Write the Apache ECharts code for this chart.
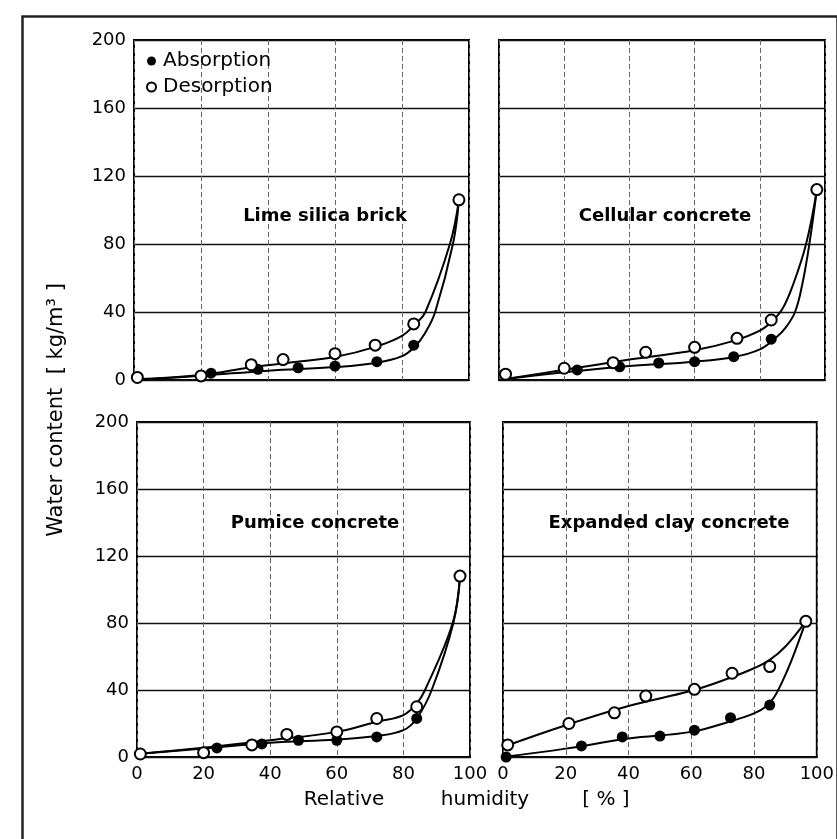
<!DOCTYPE html>
<html>
<head>
<meta charset="utf-8">
<script src="https://cdn.jsdelivr.net/npm/echarts@6/dist/echarts.min.js"></script>
<style>
    html, body { margin: 0; padding: 0; background: #fff; }
    #chart { width: 837px; height: 839px; }
</style>
</head>
<body>
<div id="chart"></div>
<script>
// axis ticks
const xTicks = [0, 20, 40, 60, 80, 100];
const yTicks = [0, 40, 80, 120, 160, 200];
const panelNames = ['Lime silica brick', 'Cellular concrete', 'Pumice concrete', 'Expanded clay concrete'];

// measured points: [relative humidity %, water content kg/m3]
const limeAbs = [[23, 4], [37, 6.3], [49, 7.2], [60, 8.2], [72.5, 10.8], [83.5, 20.5], [97, 106]];
const limeDes = [[1, 1.5], [20, 2.4], [35, 9], [44.5, 12], [60, 15.5], [72, 20.5], [83.5, 33], [97, 106]];
const cellAbs = [[24, 5.9], [37, 7.8], [49, 10], [60, 10.8], [72, 13.7], [83.5, 24], [97.5, 112]];
const cellDes = [[2, 3.4], [20, 6.9], [35, 10.2], [45, 16.3], [60, 19.2], [73, 24.5], [83.5, 35.3], [97.5, 112]];
const pumiAbs = [[24, 5.4], [37.5, 7.8], [48.5, 10], [60, 10], [72, 12], [84, 23], [97, 108]];
const pumiDes = [[1, 1.8], [20, 2.6], [34.5, 7.2], [45, 13.5], [60, 15], [72, 23], [84, 30], [97, 108]];
const clayAbs = [[1, 0], [25, 6.6], [38, 12], [50, 12.5], [61, 16], [72.5, 23.5], [85, 31], [96.5, 81]];
const clayDes = [[1.5, 7.2], [21, 20], [35.5, 26.4], [45.5, 36.4], [61, 40.4], [73, 50], [85, 54], [96.5, 81]];

// drawn sorption curves, read along the lines of the picture
const limeAbsCurve = [[0, 0], [20, 2.5], [40, 5.5], [60, 7.6], [72, 10], [80, 14], [84, 20], [87, 28], [89.9, 40], [95.2, 80], [97, 106]];
const limeDesCurve = [[0, 0.5], [20, 3], [35, 7.5], [50, 11], [60, 13.5], [72, 19.5], [80, 26], [84, 33], [87, 40], [94.3, 80], [97, 106]];
const cellAbsCurve = [[0, 0], [20, 4.5], [40, 8.2], [60, 10.8], [72, 13.5], [80, 18], [85, 25], [88, 31], [90.8, 40], [93, 56], [95.2, 80], [97.5, 112]];
const cellDesCurve = [[0, 0], [20, 6], [40, 12], [60, 17.5], [72, 23], [80, 29], [84, 35], [87, 42], [90, 55], [94.2, 80], [97.5, 112]];
const pumiAbsCurve = [[1, 2], [20, 5], [40, 8.5], [60, 10.5], [72, 12.5], [80, 16], [84, 23], [88.5, 40], [95, 80], [97, 108]];
const pumiDesCurve = [[1, 2], [20, 5.5], [40, 10], [60, 15], [72, 21], [80, 25], [84, 32], [86.5, 40], [94.8, 80], [97, 108]];
const clayAbsCurve = [[0, 0], [20, 5], [40, 11], [60, 15], [72, 21], [80, 26], [84, 30.5], [86.5, 36], [89, 45], [92, 58], [96.5, 81]];
const clayDesCurve = [[0, 6], [20, 19], [40, 30.5], [60, 39.5], [72, 47], [80, 53], [85, 58], [90, 66], [96.5, 81]];

const absSets = [limeAbs, cellAbs, pumiAbs, clayAbs];
const desSets = [limeDes, cellDes, pumiDes, clayDes];
const absCurves = [limeAbsCurve, cellAbsCurve, pumiAbsCurve, clayAbsCurve];
const desCurves = [limeDesCurve, cellDesCurve, pumiDesCurve, clayDesCurve];

const FONT = 'DejaVu Sans';

// panel boxes
const boxes = [
    {left: 134, top: 40, width: 335, height: 340},
    {left: 499, top: 40, width: 326, height: 340},
    {left: 137, top: 422, width: 333, height: 335},
    {left: 503, top: 422, width: 326, height: 335}
];
// centre of the material names
const nameCentres = [[320, 213], [660, 213], [310, 520], [664, 520]];

let grids = [], xAxes = [], yAxes = [], series = [], titles = [];
boxes.forEach(function (b, i) {
    grids.push({
        left: b.left, top: b.top, width: b.width, height: b.height,
        show: true, borderColor: '#000', borderWidth: 2, backgroundColor: 'transparent'
    });
    xAxes.push({
        type: 'value', gridIndex: i, min: xTicks[0], max: xTicks[xTicks.length - 1], interval: 20,
        axisLine: {show: false}, axisTick: {show: false},
        axisLabel: {show: i >= 2, color: '#000', fontSize: 18, fontFamily: FONT, margin: 8},
        splitLine: {show: true, lineStyle: {color: '#666', width: 1, type: [5, 3]}}
    });
    yAxes.push({
        type: 'value', gridIndex: i, min: yTicks[0], max: yTicks[yTicks.length - 1], interval: 40,
        axisLine: {show: false}, axisTick: {show: false},
        axisLabel: {show: i % 2 === 0, color: '#000', fontSize: 18, fontFamily: FONT, margin: 8},
        splitLine: {show: true, lineStyle: {color: '#111', width: 1.3}}
    });
    series.push({
        name: 'absCurve' + i, type: 'line', xAxisIndex: i, yAxisIndex: i,
        data: absCurves[i], smooth: 0.4, symbol: 'none',
        lineStyle: {color: '#000', width: 2}, z: 2
    });
    series.push({
        name: 'desCurve' + i, type: 'line', xAxisIndex: i, yAxisIndex: i,
        data: desCurves[i], smooth: 0.4, symbol: 'none',
        lineStyle: {color: '#000', width: 2}, z: 2
    });
    series.push({
        name: 'Absorption', type: 'scatter', xAxisIndex: i, yAxisIndex: i,
        data: absSets[i], symbol: 'circle', symbolSize: 11,
        itemStyle: {color: '#000', opacity: 1}, z: 3
    });
    series.push({
        name: 'Desorption', type: 'scatter', xAxisIndex: i, yAxisIndex: i,
        data: desSets[i], symbol: 'circle', symbolSize: 11,
        itemStyle: {color: '#fff', borderColor: '#000', borderWidth: 2, opacity: 1}, z: 4
    });
    titles.push({
        text: panelNames[i],
        left: nameCentres[i][0],
        top: nameCentres[i][1] - 11,
        textAlign: 'center',
        textStyle: {fontFamily: FONT, fontSize: 18, fontWeight: 'bold', color: '#000'}
    });
});

const myChart = echarts.init(document.getElementById('chart'));
myChart.setOption({
    animation: false,
    backgroundColor: '#fff',
    title: titles,
    legend: {
        orient: 'vertical', left: 141, top: 46, itemGap: 6,
        icon: 'circle', itemWidth: 9, itemHeight: 9,
        data: ['Absorption', 'Desorption'],
        itemStyle: {opacity: 1},
        textStyle: {fontFamily: FONT, fontSize: 20, color: '#000', padding: [0, 0, 0, 2]}
    },
    grid: grids,
    xAxis: xAxes,
    yAxis: yAxes,
    series: series,
    graphic: [
        {
            type: 'rect', left: 20, top: 14, z: -1, silent: true,
            shape: {width: 815, height: 860},
            style: {fill: 'none', stroke: '#222', lineWidth: 2.5}
        },
        {
            type: 'text', x: 57, y: 410, rotation: Math.PI / 2,
            style: {
                text: 'Water content  [ kg/m³ ]', fontFamily: FONT, fontSize: 21,
                fill: '#000', align: 'center', verticalAlign: 'middle'
            }
        },
        {
            type: 'text', x: 344, y: 800,
            style: {text: 'Relative', fontFamily: FONT, fontSize: 20, fill: '#000', align: 'center', verticalAlign: 'middle'}
        },
        {
            type: 'text', x: 485, y: 800,
            style: {text: 'humidity', fontFamily: FONT, fontSize: 20, fill: '#000', align: 'center', verticalAlign: 'middle'}
        },
        {
            type: 'text', x: 606, y: 800,
            style: {text: '[ % ]', fontFamily: FONT, fontSize: 20, fill: '#000', align: 'center', verticalAlign: 'middle'}
        }
    ]
});
</script>
</body>
</html>
